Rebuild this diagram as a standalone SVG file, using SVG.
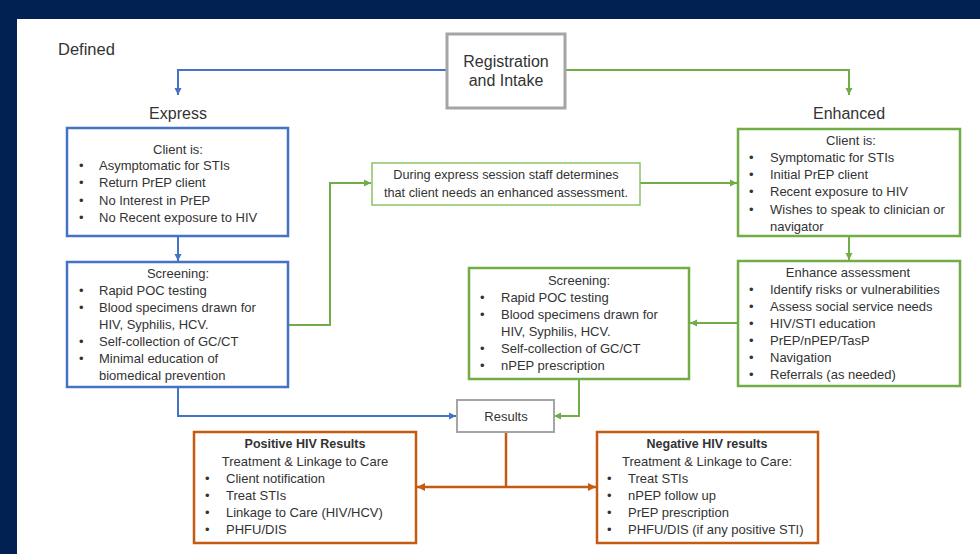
<svg xmlns="http://www.w3.org/2000/svg" width="980" height="554" viewBox="0 0 980 554">
<defs>
<style>
text{font-family:"Liberation Sans",Arial,sans-serif;fill:#333;font-size:13px}
.c{text-anchor:middle}
.h{font-size:16px}
.b{font-weight:bold;font-size:12.5px}
.blue{fill:#fff;stroke:#4472C4;stroke-width:2.5}
.green{fill:#fff;stroke:#70AD47;stroke-width:2.5}
.lgreen{fill:#fff;stroke:#8CC265;stroke-width:1.5}
.gray{fill:#fff;stroke:#A5A5A5;stroke-width:3}
.orange{fill:#fff;stroke:#C55A11;stroke-width:2.5}
.lb{fill:none;stroke:#4472C4;stroke-width:2}
.lg{fill:none;stroke:#70AD47;stroke-width:2}
.lo{fill:none;stroke:#C55A11;stroke-width:2.5}
</style>
<marker id="ab" markerUnits="userSpaceOnUse" markerWidth="8" markerHeight="8" refX="7" refY="4" orient="auto"><path d="M0,0.5 L7,4 L0,7.5 z" fill="#4472C4"/></marker>
<marker id="ag" markerUnits="userSpaceOnUse" markerWidth="8" markerHeight="8" refX="7" refY="4" orient="auto"><path d="M0,0.5 L7,4 L0,7.5 z" fill="#70AD47"/></marker>
<marker id="ao" markerUnits="userSpaceOnUse" markerWidth="9" markerHeight="9" refX="8" refY="4.5" orient="auto"><path d="M0,0.5 L8,4.5 L0,8.5 z" fill="#C55A11"/></marker>
</defs>
<rect x="0" y="0" width="980" height="554" fill="#002152"/>
<rect x="17" y="19" width="963" height="535" fill="#fff"/>
<text x="58" y="55" style="font-size:16.5px">Defined</text>
<text x="178" y="119" class="c h">Express</text>
<text x="849" y="119" class="c h">Enhanced</text>

<g id="connectors">
<path class="lb" d="M447,70 H178 V95" marker-end="url(#ab)"/>
<path class="lg" d="M565,70 H849 V95" marker-end="url(#ag)"/>
<path class="lb" d="M178,237 V261" marker-end="url(#ab)"/>
<path class="lg" d="M289,325 H330 V183 H371" marker-end="url(#ag)"/>
<path class="lg" d="M640,183 H737" marker-end="url(#ag)"/>
<path class="lg" d="M849,237 V260" marker-end="url(#ag)"/>
<path class="lg" d="M738,323 H690" marker-end="url(#ag)"/>
<path class="lb" d="M178,388 V416 H456" marker-end="url(#ab)"/>
<path class="lg" d="M579,380 V416 H554" marker-end="url(#ag)"/>
<path class="lo" d="M506,433 V487"/>
<path class="lo" d="M506,487 H417" marker-end="url(#ao)"/>
<path class="lo" d="M506,487 H596" marker-end="url(#ao)"/>
</g>

<g id="registration">
<rect class="gray" x="447" y="34" width="118" height="74"/>
<text x="506" y="67" class="c" style="font-size:16px">Registration</text>
<text x="506" y="86" class="c" style="font-size:16px">and Intake</text>
</g>

<g id="express-client">
<rect class="blue" x="67" y="128" width="221" height="108"/>
<text x="178" y="154" class="c">Client is:</text>
<text x="79" y="170">•</text><text x="99" y="170">Asymptomatic for STIs</text>
<text x="79" y="187">•</text><text x="99" y="187">Return PrEP client</text>
<text x="79" y="205">•</text><text x="99" y="205">No Interest in PrEP</text>
<text x="79" y="222">•</text><text x="99" y="222">No Recent exposure to HIV</text>
</g>

<g id="express-screening">
<rect class="blue" x="67" y="262" width="221" height="125"/>
<text x="178" y="278" class="c">Screening:</text>
<text x="79" y="295">•</text><text x="99" y="295">Rapid POC testing</text>
<text x="79" y="312">•</text><text x="99" y="312">Blood specimens drawn for</text>
<text x="99" y="329">HIV, Syphilis, HCV.</text>
<text x="79" y="346">•</text><text x="99" y="346">Self-collection of GC/CT</text>
<text x="79" y="363">•</text><text x="99" y="363">Minimal education of</text>
<text x="99" y="380">biomedical prevention</text>
</g>

<g id="during">
<rect class="lgreen" x="372" y="163" width="268" height="42"/>
<text x="506" y="179" class="c" style="font-size:12.7px">During express session staff determines</text>
<text x="506" y="197" class="c" style="font-size:12.7px">that client needs an enhanced assessment.</text>
</g>

<g id="enhanced-client">
<rect class="green" x="738" y="129" width="222" height="107"/>
<text x="851" y="145" class="c">Client is:</text>
<text x="749" y="162">•</text><text x="770" y="162">Symptomatic for STIs</text>
<text x="749" y="179">•</text><text x="770" y="179">Initial PrEP client</text>
<text x="749" y="196">•</text><text x="770" y="196">Recent exposure to HIV</text>
<text x="749" y="214">•</text><text x="770" y="214">Wishes to speak to clinician or</text>
<text x="770" y="231">navigator</text>
</g>

<g id="enhance-assessment">
<rect class="green" x="738" y="261" width="222" height="125"/>
<text x="848" y="277" class="c">Enhance assessment</text>
<text x="749" y="294">•</text><text x="770" y="294">Identify risks or vulnerabilities</text>
<text x="749" y="311">•</text><text x="770" y="311">Assess social service needs</text>
<text x="749" y="328">•</text><text x="770" y="328">HIV/STI education</text>
<text x="749" y="345">•</text><text x="770" y="345">PrEP/nPEP/TasP</text>
<text x="749" y="362">•</text><text x="770" y="362">Navigation</text>
<text x="749" y="379">•</text><text x="770" y="379">Referrals (as needed)</text>
</g>

<g id="enhanced-screening">
<rect class="green" x="469" y="268" width="220" height="111"/>
<text x="579" y="285" class="c">Screening:</text>
<text x="480" y="302">•</text><text x="501" y="302">Rapid POC testing</text>
<text x="480" y="319">•</text><text x="501" y="319">Blood specimens drawn for</text>
<text x="501" y="336">HIV, Syphilis, HCV.</text>
<text x="480" y="353">•</text><text x="501" y="353">Self-collection of GC/CT</text>
<text x="480" y="370">•</text><text x="501" y="370">nPEP prescription</text>
</g>

<g id="results">
<rect class="gray" x="457" y="400" width="97" height="32" style="stroke-width:2"/>
<text x="506" y="421" class="c">Results</text>
</g>

<g id="positive">
<rect class="orange" x="194" y="432" width="222" height="111"/>
<text x="305" y="448" class="c b">Positive HIV Results</text>
<text x="305" y="466" class="c">Treatment &amp; Linkage to Care</text>
<text x="205" y="483">•</text><text x="226" y="483">Client notification</text>
<text x="205" y="500">•</text><text x="226" y="500">Treat STIs</text>
<text x="205" y="517">•</text><text x="226" y="517">Linkage to Care (HIV/HCV)</text>
<text x="205" y="534">•</text><text x="226" y="534">PHFU/DIS</text>
</g>

<g id="negative">
<rect class="orange" x="597" y="432" width="221" height="111"/>
<text x="707" y="448" class="c b">Negative HIV results</text>
<text x="707" y="466" class="c">Treatment &amp; Linkage to Care:</text>
<text x="607" y="483">•</text><text x="628" y="483">Treat STIs</text>
<text x="607" y="500">•</text><text x="628" y="500">nPEP follow up</text>
<text x="607" y="517">•</text><text x="628" y="517">PrEP prescription</text>
<text x="607" y="534">•</text><text x="628" y="534">PHFU/DIS (if any positive STI)</text>
</g>
</svg>
